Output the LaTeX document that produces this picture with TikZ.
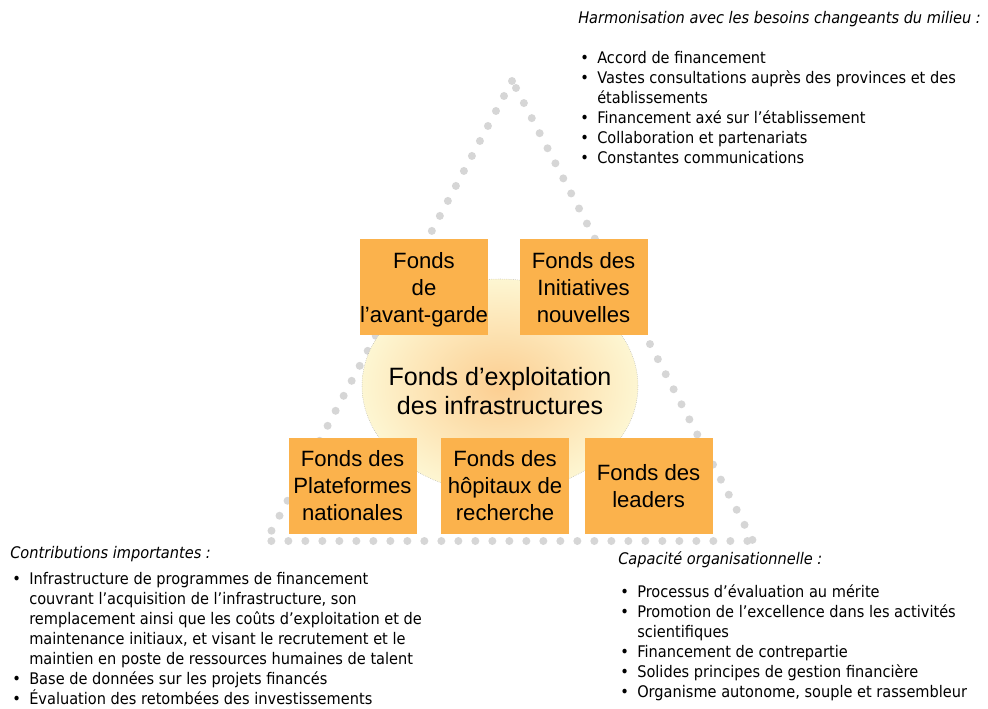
\documentclass[tikz,border=0pt]{standalone}
\usepackage{fontspec}
\setmainfont{Liberation Sans}
\newfontfamily\tahoma{DejaVu Sans}[FakeStretch=0.91]
\usetikzlibrary{positioning, shapes.geometric}
\definecolor{orangeFonds}{RGB}{251,178,76}
\definecolor{grisPoint}{RGB}{214,214,214}
\definecolor{centreOrange}{RGB}{252,206,145}
\definecolor{bordJaune}{RGB}{253,246,210}
\newcommand{\puce}{\makebox[12.75pt][l]{\textbullet}}
\newcommand{\suite}{\hspace*{12.75pt}}
\tikzset {
    fonds/.style={fill=orangeFonds, minimum width=96pt, minimum height=72pt,
        inner sep=0pt, text depth=-4.5pt, align=center, font=\fontsize{16.6}{20.25}\selectfont},
    exploitation/.style={ellipse, minimum width=207pt, minimum height=160.5pt,
        inner sep=0pt, inner color=centreOrange, outer color=bordJaune,
        draw=gray!60, densely dotted, thin},
    texteExpl/.style={inner sep=0pt, align=center, font=\fontsize{18.8}{21.75}\selectfont},
    points/.style={grisPoint, line width=6pt, line cap=round,
        dash pattern=on 0pt off 12.75pt},
    titre/.style={anchor=base west, inner sep=0pt, font=\tahoma\itshape\fontsize{12}{15}\selectfont},
    liste/.style={anchor=base west, inner sep=0pt, align=left, font=\tahoma\fontsize{12}{15}\selectfont}
}
\begin{document}
\begin{tikzpicture}[x=0.75pt, y=-0.75pt]
    \useasboundingbox (0,0) rectangle (988,709);

    \coordinate (sommetG) at (512,81);
    \coordinate (sommetD) at (516,88);
    \coordinate (baseG) at (266,541);
    \coordinate (baseD) at (753,541);
    \draw[points] (sommetG) -- (baseG) -- (baseD);
    \draw[points] (sommetD) -- (baseD);

    \node[exploitation] (fondsExpl) at (500,386) {};
    \node[texteExpl] (texteExpl) at (500,391.5) {Fonds d’exploitation\\des infrastructures};

    \node[fonds] (fondsAvant) at (424,287) {Fonds\\de\\l’avant-garde};
    \node[fonds, right=23.25pt of fondsAvant] (fondsInit) {Fonds des\\Initiatives\\nouvelles};
    \node[fonds] (fondsPlat) at (352.5,485.5) {Fonds des\\Plateformes\\nationales};
    \node[fonds, right=18pt of fondsPlat] (fondsHop) {Fonds des\\hôpitaux de\\recherche};
    \node[fonds, right=11.25pt of fondsHop] (fondsLead) {Fonds des\\leaders};

    \node[titre] (harmTitre) at (578,24) {Harmonisation avec les besoins changeants du milieu :};
    \node[liste] (harmListe) at (580,164) {\puce Accord de financement\\
        \puce Vastes consultations auprès des provinces et des\\
        \suite établissements\\
        \puce Financement axé sur l’établissement\\
        \puce Collaboration et partenariats\\
        \puce Constantes communications};

    \node[titre] (contribTitre) at (10,558) {Contributions importantes :};
    \node[liste] (contribListe) at (12,704) {\puce Infrastructure de programmes de financement\\
        \suite couvrant l’acquisition de l’infrastructure, son\\
        \suite remplacement ainsi que les coûts d’exploitation et de\\
        \suite maintenance initiaux, et visant le recrutement et le\\
        \suite maintien en poste de ressources humaines de talent\\
        \puce Base de données sur les projets financés\\
        \puce Évaluation des retombées des investissements};

    \node[titre] (capaTitre) at (618,564) {Capacité organisationnelle :};
    \node[liste] (capaListe) at (620,697) {\puce Processus d’évaluation au mérite\\
        \puce Promotion de l’excellence dans les activités\\
        \suite scientifiques\\
        \puce Financement de contrepartie\\
        \puce Solides principes de gestion financière\\
        \puce Organisme autonome, souple et rassembleur};
\end{tikzpicture}
\end{document}
